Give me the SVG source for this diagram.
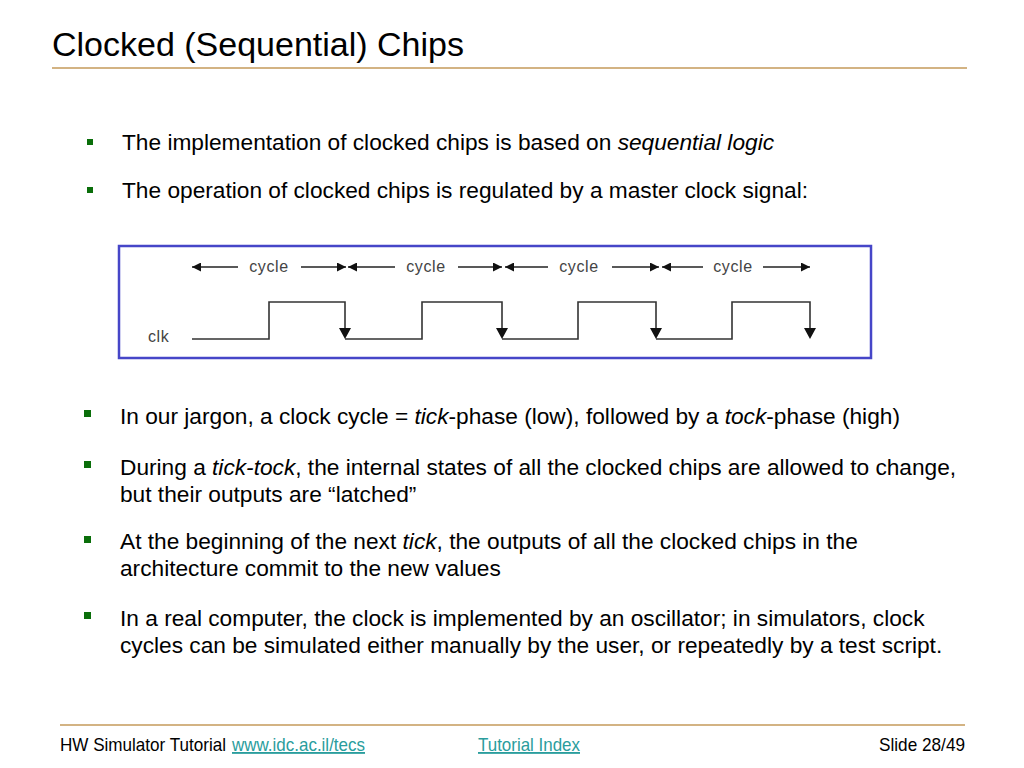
<svg xmlns="http://www.w3.org/2000/svg" width="1024" height="768" viewBox="0 0 1024 768">
<defs>
<style>
text{font-family:"Liberation Sans",Arial,sans-serif;fill:#000}
.title{font-size:34px}
.body{font-size:22.7px}
.foot{font-size:18.5px}
.link{fill:#2a9d9d;text-decoration:underline}
.rule{stroke:#c49a5a;stroke-width:1.5}
.bullet{fill:#0a6e0a}
.wave{fill:none;stroke:#333;stroke-width:1.6}
.small{font-size:16px;fill:#444;letter-spacing:0.6px}
</style>
<marker id="ah" viewBox="0 0 10 10" refX="10" refY="5" markerWidth="11" markerHeight="9" markerUnits="userSpaceOnUse" orient="auto">
<path d="M0,0 L10,5 L0,10 Z" fill="#111"/>
</marker>
</defs>
<rect width="1024" height="768" fill="#fff"/>

<g id="title">
<text class="title" x="52" y="56">Clocked (Sequential) Chips</text>
<line class="rule" x1="52" y1="68" x2="967" y2="68"/>
</g>

<g id="bullets-top">
<rect class="bullet" x="87" y="139" width="6" height="6"/>
<text class="body" x="122" y="150">The implementation of clocked chips is based on <tspan font-style="italic">sequential logic</tspan></text>
<rect class="bullet" x="87" y="187" width="6" height="6"/>
<text class="body" x="122" y="198">The operation of clocked chips is regulated by a master clock signal:</text>
</g>

<g id="clock-diagram">
<rect x="119" y="246" width="752" height="112" fill="#fff" stroke="#4646c8" stroke-width="2.5"/>
<text class="small" x="148" y="342" font-size="15" letter-spacing="0.5">clk</text>
<g id="cycle-labels">
<text class="small" x="269" y="272" text-anchor="middle">cycle</text>
<text class="small" x="426" y="272" text-anchor="middle">cycle</text>
<text class="small" x="579" y="272" text-anchor="middle">cycle</text>
<text class="small" x="733" y="272" text-anchor="middle">cycle</text>
</g>
<g id="connectors" stroke="#222" stroke-width="1.3">
<line x1="238" y1="267" x2="192" y2="267" marker-end="url(#ah)"/>
<line x1="301" y1="267" x2="346" y2="267" marker-end="url(#ah)"/>
<line x1="395" y1="267" x2="348" y2="267" marker-end="url(#ah)"/>
<line x1="458" y1="267" x2="502" y2="267" marker-end="url(#ah)"/>
<line x1="548" y1="267" x2="505" y2="267" marker-end="url(#ah)"/>
<line x1="612" y1="267" x2="659" y2="267" marker-end="url(#ah)"/>
<line x1="703" y1="267" x2="662" y2="267" marker-end="url(#ah)"/>
<line x1="763" y1="267" x2="810" y2="267" marker-end="url(#ah)"/>
</g>
<g id="clk-wave">
<polyline class="wave" points="192,339 269,339 269,302 345,302 345,330"/>
<polyline class="wave" points="345,339 422,339 422,302 502,302 502,330"/>
<polyline class="wave" points="502,339 578,339 578,302 656,302 656,330"/>
<polyline class="wave" points="656,339 732,339 732,302 810,302 810,330"/>
<path d="M339,328 L351,328 L345,339 Z M496,328 L508,328 L502,339 Z M650,328 L662,328 L656,339 Z M804,328 L816,328 L810,339 Z" fill="#111"/>
</g>
</g>

<g id="bullets-bottom">
<rect class="bullet" x="84" y="410" width="7" height="7"/>
<text class="body" x="120" y="424">In our jargon, a clock cycle = <tspan font-style="italic">tick</tspan>-phase (low), followed by a <tspan font-style="italic">tock</tspan>-phase (high)</text>
<rect class="bullet" x="84" y="461" width="7" height="7"/>
<text class="body" x="120" y="475">During a <tspan font-style="italic">tick-tock</tspan>, the internal states of all the clocked chips are allowed to change,</text>
<text class="body" x="120" y="502">but their outputs are “latched”</text>
<rect class="bullet" x="84" y="536" width="7" height="7"/>
<text class="body" x="120" y="549">At the beginning of the next <tspan font-style="italic">tick</tspan>, the outputs of all the clocked chips in the</text>
<text class="body" x="120" y="576">architecture commit to the new values</text>
<rect class="bullet" x="84" y="612" width="7" height="7"/>
<text class="body" x="120" y="626">In a real computer, the clock is implemented by an oscillator; in simulators, clock</text>
<text class="body" x="120" y="653">cycles can be simulated either manually by the user, or repeatedly by a test script.</text>
</g>

<g id="footer">
<line class="rule" x1="60" y1="725" x2="965" y2="725"/>
<text class="foot" x="60" y="751" textLength="166" lengthAdjust="spacingAndGlyphs">HW Simulator Tutorial</text>
<text class="foot link" x="232" y="751" textLength="133" lengthAdjust="spacingAndGlyphs">www.idc.ac.il/tecs</text>
<text class="foot link" x="478" y="751" textLength="102" lengthAdjust="spacingAndGlyphs">Tutorial Index</text>
<text class="foot" x="879" y="751" textLength="86" lengthAdjust="spacingAndGlyphs">Slide 28/49</text>
</g>
</svg>
